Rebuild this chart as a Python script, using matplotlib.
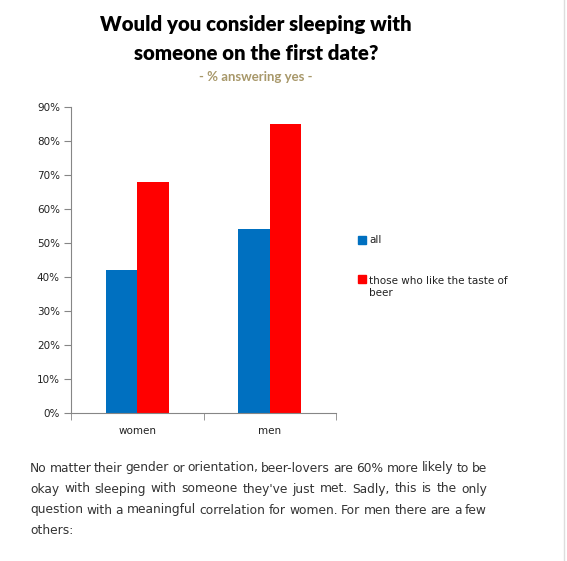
import matplotlib
matplotlib.use("Agg")
import matplotlib.pyplot as plt
from matplotlib.patches import Rectangle
from matplotlib import font_manager, ft2font
import numpy as np

categories = ["women", "men"]
series_names = ["all", "those who like the taste of\nbeer"]
all_vals = [42, 54]
beer_vals = [68, 85]
colors = ["#0070C0", "#FF0000"]
yticks = [0, 10, 20, 30, 40, 50, 60, 70, 80, 90]
ytick_labels = [f"{v}%" for v in yticks]

title = "Would you consider sleeping with\nsomeone on the first date?"
subtitle = "- % answering yes -"
body_lines = [
    "No matter their gender or orientation, beer-lovers are 60% more likely to be",
    "okay with sleeping with someone they've just met. Sadly, this is the only",
    "question with a meaningful correlation for women. For men there are a few",
    "others:",
]

W, H = 567, 561
fig = plt.figure(figsize=(W / 100, H / 100), dpi=100)
ax = fig.add_axes([71 / W, 1 - 413 / H, (336 - 71) / W, (413 - 107) / H])

x = np.arange(len(categories))
bw = 0.237
ax.bar(x - bw / 2, all_vals, width=bw, color=colors[0], label=series_names[0])
ax.bar(x + bw / 2, beer_vals, width=bw, color=colors[1], label=series_names[1])

ax.set_xlim(-0.5, len(categories) - 0.5)
ax.set_ylim(0, 90)
axis_col = "#868686"
for s in ["top", "right"]:
    ax.spines[s].set_visible(False)
for s in ["left", "bottom"]:
    ax.spines[s].set_color(axis_col)
ax.set_yticks(yticks)
ax.set_yticklabels(ytick_labels, fontsize=7.5, color="#222222")
ax.tick_params(axis="y", length=5, color=axis_col, pad=3)
ax.set_xticks(x)
ax.set_xticklabels(categories, fontsize=7.5, color="#222222")
ax.tick_params(axis="x", length=0, pad=9)
ax.set_xticks([-0.5, 0.5, 1.5], minor=True)
ax.tick_params(axis="x", which="minor", length=5, color=axis_col)

# legend
fig.patches.append(Rectangle((358 / W, 1 - 244 / H), 8 / W, 8 / H, color=colors[0], transform=fig.transFigure))
fig.text(369 / W, 1 - 240 / H, series_names[0], fontsize=7.5, va="center", ha="left", color="#222222")
fig.patches.append(Rectangle((358 / W, 1 - 283 / H), 8 / W, 8 / H, color=colors[1], transform=fig.transFigure))
fig.text(369 / W, 1 - 287 / H, series_names[1], fontsize=7.5, va="center", ha="left", color="#222222", linespacing=1.35)

# titles
fig.text(256 / W, 1 - 25 / H, title.split("\n")[0], fontsize=14.7, fontweight="heavy", family="Lato", ha="center", va="center")
fig.text(256 / W, 1 - 53 / H, title.split("\n")[1], fontsize=14.7, fontweight="heavy", family="Lato", ha="center", va="center")
fig.text(256 / W, 1 - 77 / H, subtitle, fontsize=9.5, fontweight="bold", family="Lato", ha="center", va="center", color="#A8986A")

# right border line
fig.add_artist(plt.Line2D([563.5 / W, 563.5 / W], [0, 1], color="#DDDDDD", lw=1, transform=fig.transFigure))

# justified body text using font advance widths
x0, x1 = 30, 487
fs = 8.8
text_col = "#333333"
path = font_manager.findfont(font_manager.FontProperties(family="DejaVu Sans"))
font = ft2font.FT2Font(path)
font.set_size(fs, 100)
try:
    NOH = ft2font.LoadFlags.NO_HINTING
except AttributeError:
    NOH = ft2font.LOAD_NO_HINTING


def adv(s):
    return sum(font.load_char(ord(c), flags=NOH).linearHoriAdvance / 65536 for c in s)


for i, line in enumerate(body_lines):
    yy = 1 - (468 + 21 * i) / H
    words = line.split(" ")
    if i == len(body_lines) - 1:
        fig.text(x0 / W, yy, line, fontsize=fs, color=text_col, va="center", ha="left")
        continue
    widths = [adv(w) for w in words]
    gap = ((x1 - x0) - sum(widths)) / (len(words) - 1)
    cx = x0
    for w, wd in zip(words, widths):
        fig.text(cx / W, yy, w, fontsize=fs, color=text_col, va="center", ha="left")
        cx += wd + gap

fig.savefig("out.png", dpi=100)
